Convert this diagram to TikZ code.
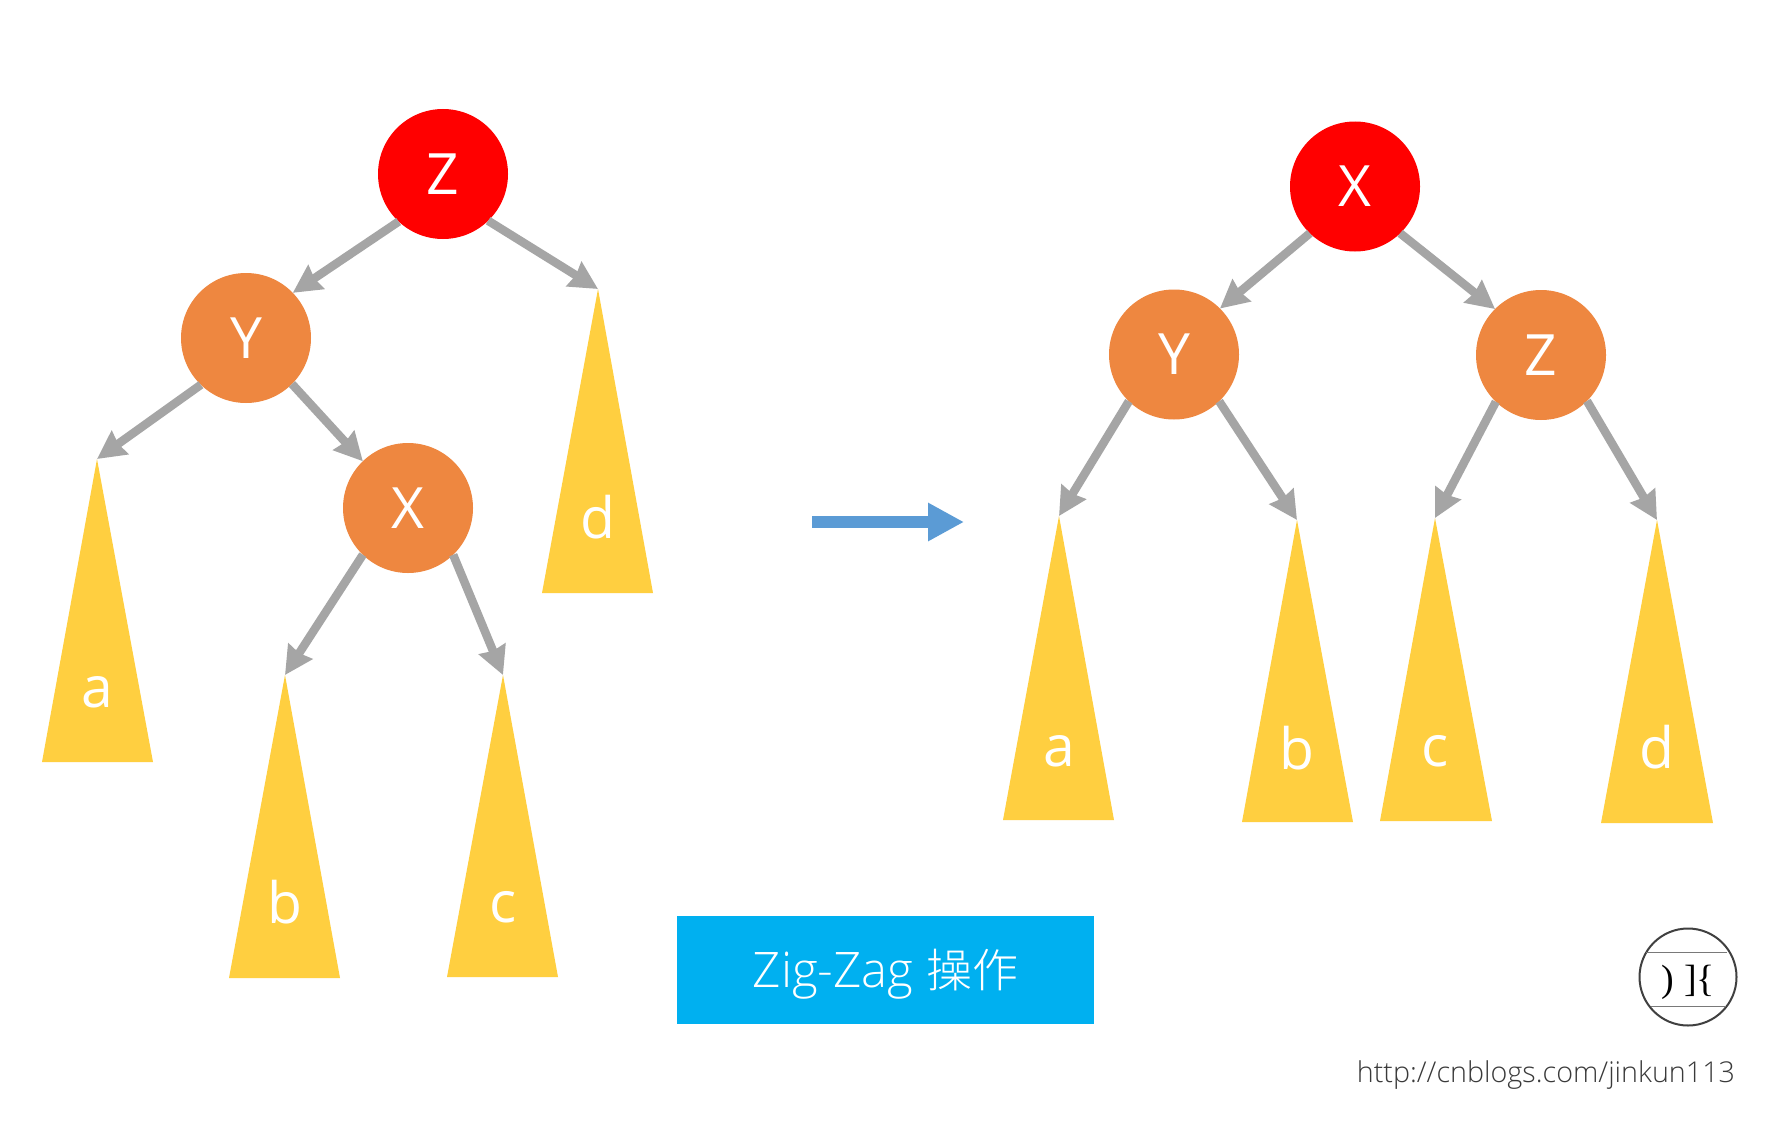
\documentclass[tikz,border=0pt]{standalone}
\usepackage{fontspec}
\usetikzlibrary{arrows.meta}
\setmainfont{Open Sans}
\newfontfamily\lightf{Open Sans Light}
\newfontfamily\cjkf{Noto Sans CJK SC Light}
\newfontfamily\logof{Liberation Serif}
\definecolor{rednode}{HTML}{FF0000}
\definecolor{orangenode}{HTML}{EE8740}
\definecolor{tri}{HTML}{FFCF40}
\definecolor{conn}{HTML}{A5A5A5}
\definecolor{flow}{HTML}{5B9BD5}
\definecolor{banner}{HTML}{00B0F0}
\definecolor{ink}{HTML}{404040}
\tikzset{
  every node/.style={inner sep=0pt,outer sep=0pt},
  circ/.style={circle,minimum size=130pt,text=white,font=\rmfamily\fontsize{57}{60}\selectfont},
  redn/.style={circ,fill=rednode},
  orn/.style={circ,fill=orangenode},
  trilabel/.style={text=white,font=\rmfamily\fontsize{57}{60}\selectfont},
  link/.style={draw=conn,line width=8.5pt,-{Stealth[length=28pt,width=28pt,inset=2pt]}},
}
\newcommand{\subtree}[8]{%
  \fill[tri] (#2,#3) -- (#5,#6) -- (#4,#6) -- cycle;
  \coordinate (#1) at (#2,#3);
  \node[trilabel] (#1t) at (#2,#8) {#7};
}
\begin{document}
\begin{tikzpicture}[x=1pt,y=-1pt]
\useasboundingbox (0,0) rectangle (1771,1129);
\fill[white] (0,0) rectangle (1771,1129);
% subtrees
\subtree{a1}{97}{459}{42}{153}{762}{a}{692}
\subtree{b1}{285}{675}{229}{340}{978}{b}{902}
\subtree{c1}{503}{675}{447}{558}{977}{c}{907}
\subtree{d1}{598}{289}{542}{653}{593}{d}{517}
\subtree{a2}{1059}{516}{1003}{1114}{820}{a}{751}
\subtree{b2}{1297}{520}{1242}{1353}{822}{b}{748}
\subtree{c2}{1435}{518}{1380}{1492}{821}{c}{751}
\subtree{d2}{1657}{520}{1601}{1713}{823}{d}{747}
% circles
\node[redn] (Z1) at (443,174) {Z};
\node[orn] (Y1) at (246,338) {Y};
\node[orn] (X1) at (408,508) {X};
\node[redn] (X2) at (1355,186.5) {X};
\node[orn] (Y2) at (1174,354.5) {Y};
\node[orn] (Z2) at (1541,355) {Z};
% connectors
\draw[link] (Z1.227) -- (Y1.44);
\draw[link] (Z1.314) -- (d1);
\draw[link] (Y1.226) -- (a1);
\draw[link] (Y1.315) -- (X1.134);
\draw[link] (X1.226) -- (b1);
\draw[link] (X1.314) -- (c1);
\draw[link] (X2.226) -- (Y2.45);
\draw[link] (X2.314) -- (Z2.135);
\draw[link] (Y2.226) -- (a2);
\draw[link] (Y2.314) -- (b2);
\draw[link] (Z2.226) -- (c2);
\draw[link] (Z2.315) -- (d2);
% transformation arrow
\coordinate (fs) at (812,522);
\coordinate (fe) at (964,522);
\draw[draw=flow,line width=12pt,-{Triangle[length=36pt,width=36pt]}] (fs) -- (fe);
% banner
\node[fill=banner,minimum width=417pt,minimum height=108pt] (ban) at (885.5,970) {};
\node[text=white] (bant) at (885.5,974)
  {\fontsize{49}{52}\selectfont\lightf Zig-Zag {\cjkf\fontsize{46}{52}\selectfont 操作}};
% logo
\node[circle,draw=ink,line width=2pt,minimum size=97pt] (logo) at (1688,977) {};
\coordinate (l1) at (1646,952); \coordinate (l2) at (1727,952);
\coordinate (l3) at (1651,1006); \coordinate (l4) at (1726,1006);
\draw[ink!70,line width=1pt] (l1) -- (l2);
\draw[ink!70,line width=1pt] (l3) -- (l4);
\node[text=black,font=\logof\fontsize{38}{40}\selectfont] (logot) at (1688,982) {)\hspace{11pt}]\hspace{-1pt}\{};
% url
\node[text=ink!90!black,font=\lightf\fontsize{28.7}{36}\selectfont,anchor=east] (url) at (1735,1075) {http://cnblogs.com/jinkun113};
\end{tikzpicture}
\end{document}
